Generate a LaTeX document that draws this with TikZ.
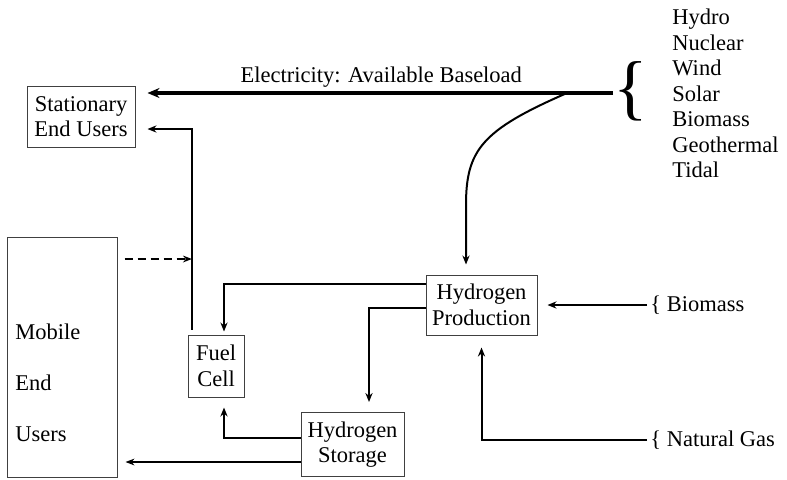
\documentclass[tikz,border=0pt]{standalone}
\usepackage{fontspec}
\setmainfont{Liberation Serif}
\usepackage{tikz}
\usetikzlibrary{positioning,arrows.meta,calc}

\begin{document}
\begin{tikzpicture}[
  x=0.5pt, y=-0.5pt,
  font=\fontsize{11.25}{12.75}\selectfont,
  >=Stealth,
  box/.style={draw=black!75, line width=0.5pt, inner sep=3pt, align=center},
  txt/.style={inner sep=0pt, align=left},
  arr/.style={->, line width=1pt, >={Stealth[length=4.5pt,width=3.6pt]}},
  thinarr/.style={->, line width=0.6pt, >={Stealth[length=4.5pt,width=3.4pt]}},
  thickarr/.style={->, line width=2pt, >={Stealth[length=6pt,width=5pt]}},
  dasharr/.style={->, line width=0.7pt, dashed, dash pattern=on 4pt off 2.5pt,
                  >={Stealth[length=4.5pt,width=3.4pt]}},
]
\useasboundingbox (0,0) rectangle (787,479);

% boxes
\node[box, minimum width=54pt, minimum height=30.5pt] (stat) at (81,116.5) {Stationary\\End Users};
\node[box, minimum width=55pt, minimum height=120pt] (mob) at (62,357) {};
\node[txt, anchor=west] (mobtxt) at (15,383) {Mobile\\[12.75pt]End\\[12.75pt]Users};
\node[box, minimum width=28pt, minimum height=31pt] (fc) at (216,366) {Fuel\\Cell};
\node[box, minimum width=55.5pt, minimum height=30pt] (hp) at (481.5,305) {Hydrogen\\Production};
\node[box, minimum width=51.5pt, minimum height=32pt] (hs) at (352.5,444.5) {Hydrogen\\Storage};

% sources
\node[txt] (brc) at (631,91) {\fontsize{36}{36}\selectfont\{};
\node[txt, anchor=west] (srcs) at (672,93.5) {Hydro\\Nuclear\\Wind\\Solar\\Biomass\\Geothermal\\Tidal};
\node[txt, anchor=west] (bio) at (650,305) {\{ Biomass};
\node[txt, anchor=west] (ng) at (650,440) {\{ Natural Gas};

\coordinate (src) at (613,93);
\coordinate (jn) at (567,93);
\coordinate (dz) at (192,259);

% electricity
\draw[thickarr, shorten >=6pt] (src) -- (stat.east |- src)
  node[midway, above=-1.5pt, xshift=3.5pt] (elec) {Electricity: Available Baseload};
\draw[arr, shorten >=5pt] (jn) .. controls (482,130) and (466,150) .. (466,205)
  -- ([xshift=-7.75pt]hp.north);

% hydrogen paths
\draw[arr, shorten <=2.5pt] ([xshift=2pt]fc.north west) |- ([yshift=-6.25pt,xshift=6pt]stat.east);
\draw[dasharr, shorten <=3.5pt] (mob.east |- dz) -- (dz);
\draw[arr, shorten >=1.5pt] ([yshift=10.5pt]hp.west) -| ([xshift=4pt]fc.north);
\draw[arr, shorten >=5pt] ([yshift=-1.5pt]hp.west) -| ([xshift=8.25pt]hs.north);
\draw[arr, shorten >=5pt] ([yshift=3.25pt]hs.west) -| ([xshift=4pt]fc.south);
\draw[thinarr, shorten >=4pt] ([yshift=-8.75pt]hs.west) -- ([yshift=-8.75pt]hs.west -| mob.east);
\draw[arr, shorten <=1.5pt, shorten >=5pt] (bio.west) -- (hp.east |- bio.west);
\draw[arr, shorten <=1.5pt, shorten >=6pt] (ng.west) -| (hp.south);
\end{tikzpicture}
\end{document}
